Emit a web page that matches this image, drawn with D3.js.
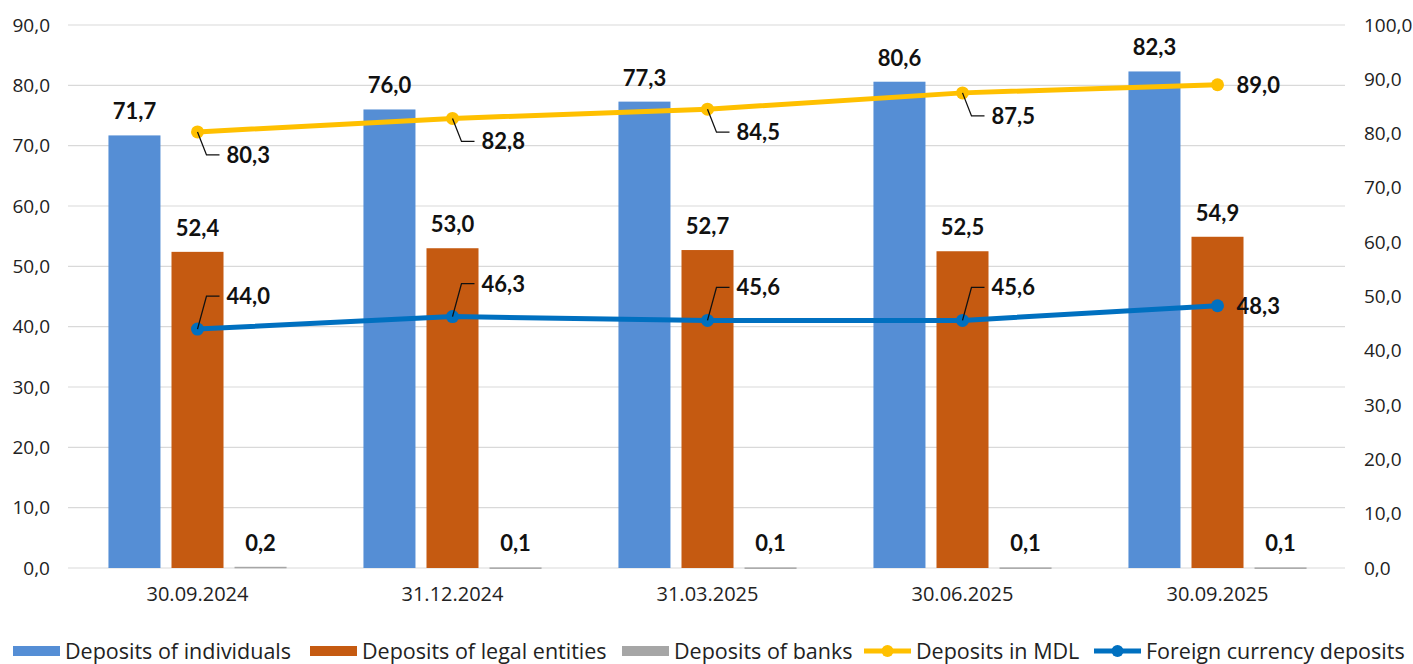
<!DOCTYPE html>
<html>
<head>
<meta charset="utf-8">
<script src="https://cdn.jsdelivr.net/npm/d3@7"></script>
<style>
  body { margin: 0; background: #fff; }
  svg { display: block; font-family: "Open Sans", Lato, sans-serif; }
</style>
</head>
<body>
<svg id="chart" width="1413" height="664"></svg>
<script>
// data
const dates = ['30.09.2024', '31.12.2024', '31.03.2025', '30.06.2025', '30.09.2025'];
const individuals = [71.7, 76.0, 77.3, 80.6, 82.3];
const legalEntities = [52.4, 53.0, 52.7, 52.5, 54.9];
const banks = [0.2, 0.1, 0.1, 0.1, 0.1];
const depositsMDL = [80.3, 82.8, 84.5, 87.5, 89.0];
const foreignCurrency = [44.0, 46.3, 45.6, 45.6, 48.3];
const leftTicks = [0, 10, 20, 30, 40, 50, 60, 70, 80, 90];
const rightTicks = [0, 10, 20, 30, 40, 50, 60, 70, 80, 90, 100];

const barSeries = [
  {name: 'Deposits of individuals', values: individuals, color: '#558ED5'},
  {name: 'Deposits of legal entities', values: legalEntities, color: '#C55A11'},
  {name: 'Deposits of banks', values: banks, color: '#A6A6A6'}
];
const lineSeries = [
  {name: 'Deposits in MDL', values: depositsMDL, color: '#FFC000', labelPos: 'below'},
  {name: 'Foreign currency deposits', values: foreignCurrency, color: '#0070C0', labelPos: 'above'}
];

const fmt = v => d3.format('.1f')(v).replace('.', ',');

const margin = {top: 25, right: 68, bottom: 96, left: 70};
const width = 1413 - margin.left - margin.right,
  height = 664 - margin.top - margin.bottom;

const svg = d3.select('#chart');
const g = svg.append('g')
  .attr('transform', `translate(${margin.left},${margin.top})`);

const x = d3.scaleBand().domain(dates).range([0, width]);
const xInner = d3.scaleBand()
  .domain(barSeries.map(s => s.name))
  .range([0, x.bandwidth()])
  .paddingInner(0.175)
  .paddingOuter(0.61);
const yLeft = d3.scaleLinear().domain([0, 90]).range([height, 0]);
const yRight = d3.scaleLinear().domain([0, 100]).range([height, 0]);

// gridlines
g.append('g')
  .selectAll('line')
  .data(leftTicks)
  .join('line')
  .attr('x1', -2)
  .attr('x2', width)
  .attr('y1', d => yLeft(d))
  .attr('y2', d => yLeft(d))
  .attr('stroke', '#d9d9d9')
  .attr('stroke-width', 1.2);

// axes
const leftAxis = g.append('g')
  .call(d3.axisLeft(yLeft).tickValues(leftTicks).tickFormat(fmt).tickSize(0).tickPadding(20));
const rightAxis = g.append('g')
  .attr('transform', `translate(${width},0)`)
  .call(d3.axisRight(yRight).tickValues(rightTicks).tickFormat(fmt).tickSize(0).tickPadding(19));
const bottomAxis = g.append('g')
  .attr('transform', `translate(0,${height})`)
  .call(d3.axisBottom(x).tickSize(0).tickPadding(19));

[leftAxis, rightAxis].forEach(a => {
  a.select('.domain').remove();
  a.selectAll('text')
    .attr('fill', '#222')
    .style('font-size', '19px')
    .style('font-family', '"Open Sans", sans-serif');
});
bottomAxis.select('.domain').remove();
bottomAxis.selectAll('text')
  .attr('fill', '#222')
  .style('font-size', '20px')
  .style('font-family', '"Open Sans", sans-serif');

// bars
const groups = g.append('g')
  .selectAll('g')
  .data(barSeries)
  .join('g')
  .attr('fill', s => s.color);

groups.selectAll('rect')
  .data(s => s.values.map((v, i) => ({s, v, date: dates[i]})))
  .join('rect')
  .attr('x', d => x(d.date) + xInner(d.s.name))
  .attr('y', d => yLeft(d.v))
  .attr('width', xInner.bandwidth())
  .attr('height', d => Math.max(height - yLeft(d.v), 1.5));

groups.selectAll('text')
  .data(s => s.values.map((v, i) => ({s, v, date: dates[i]})))
  .join('text')
  .attr('x', d => x(d.date) + xInner(d.s.name) + xInner.bandwidth() / 2)
  .attr('y', d => yLeft(d.v) - 16)
  .attr('text-anchor', 'middle')
  .attr('fill', '#111')
  .style('font-family', 'Lato, sans-serif')
  .style('font-size', '22px')
  .style('font-weight', 'bold')
  .text(d => fmt(d.v));

// lines
const cx = d => x(d) + x.bandwidth() / 2;
lineSeries.forEach(s => {
  const pts = s.values.map((v, i) => ({v, px: cx(dates[i]), py: yRight(v), last: i === dates.length - 1}));
  const lg = g.append('g');
  lg.append('path')
    .datum(pts)
    .attr('fill', 'none')
    .attr('stroke', s.color)
    .attr('stroke-width', 5)
    .attr('stroke-linejoin', 'round')
    .attr('d', d3.line().x(d => d.px).y(d => d.py));
  lg.selectAll('circle')
    .data(pts)
    .join('circle')
    .attr('cx', d => d.px)
    .attr('cy', d => d.py)
    .attr('r', 6.5)
    .attr('fill', s.color);

  const dy = s.labelPos === 'below' ? 23 : -33;
  // leader lines
  lg.selectAll('path.leader')
    .data(pts.filter(d => !d.last))
    .join('path')
    .attr('class', 'leader')
    .attr('fill', 'none')
    .attr('stroke', '#111')
    .attr('stroke-width', 1.3)
    .attr('d', d => `M${d.px},${d.py} L${d.px + 9},${d.py + dy} L${d.px + 22},${d.py + dy}`);

  lg.selectAll('text')
    .data(pts)
    .join('text')
    .attr('x', d => d.last ? d.px + 19 : d.px + 29)
    .attr('y', d => d.last ? d.py : d.py + dy)
    .attr('dy', '0.36em')
    .attr('fill', '#111')
    .style('font-family', 'Lato, sans-serif')
    .style('font-size', '22px')
    .style('font-weight', 'bold')
    .text(d => fmt(d.v));
});

// legend
const legendItems = [
  {name: barSeries[0].name, color: barSeries[0].color, type: 'bar', x: 13},
  {name: barSeries[1].name, color: barSeries[1].color, type: 'bar', x: 310},
  {name: barSeries[2].name, color: barSeries[2].color, type: 'bar', x: 622},
  {name: lineSeries[0].name, color: lineSeries[0].color, type: 'line', x: 864},
  {name: lineSeries[1].name, color: lineSeries[1].color, type: 'line', x: 1094}
];
const legend = svg.append('g')
  .attr('transform', 'translate(0,651)');
const li = legend.selectAll('g')
  .data(legendItems)
  .join('g')
  .attr('transform', d => `translate(${d.x},0)`);
li.filter(d => d.type === 'bar')
  .append('rect')
  .attr('x', 0).attr('y', -5)
  .attr('width', 47).attr('height', 10)
  .attr('fill', d => d.color);
li.filter(d => d.type === 'line')
  .append('line')
  .attr('x1', 0).attr('x2', 47)
  .attr('stroke', d => d.color)
  .attr('stroke-width', 5);
li.filter(d => d.type === 'line')
  .append('circle')
  .attr('cx', 23.5).attr('r', 6)
  .attr('fill', d => d.color);
li.append('text')
  .attr('x', 52)
  .attr('dy', '0.36em')
  .attr('fill', '#222')
  .style('font-size', '21.5px')
  .text(d => d.name);
</script>
</body>
</html>
